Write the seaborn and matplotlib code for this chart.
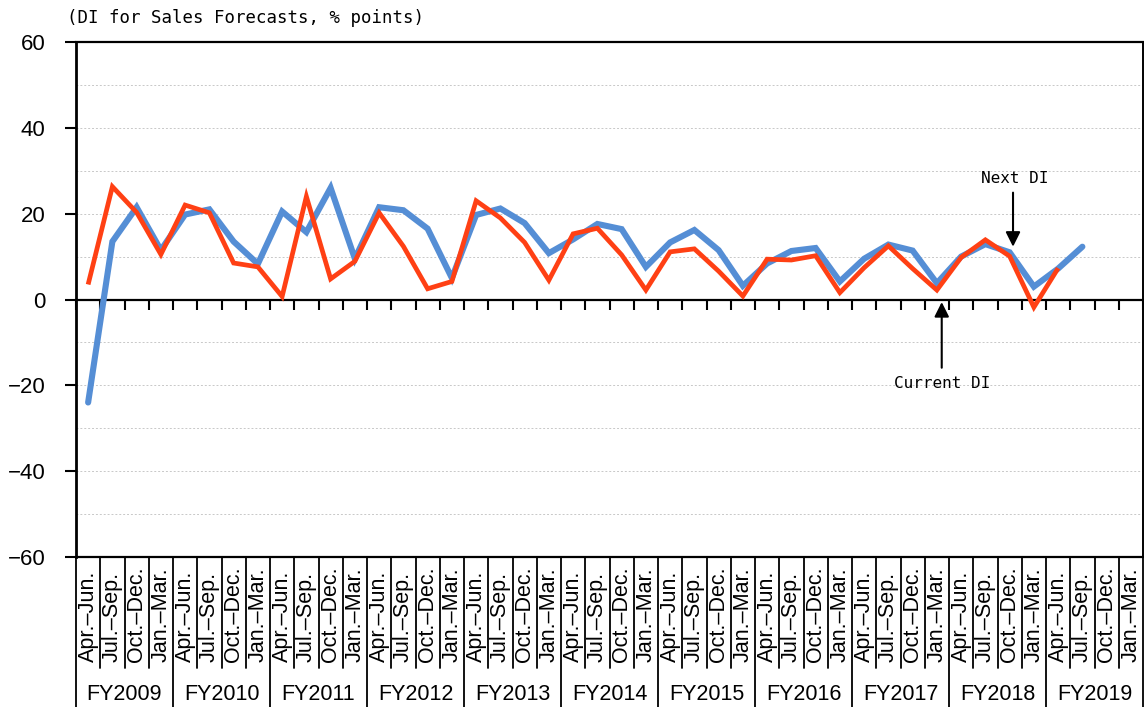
import numpy as np
import pandas as pd
import matplotlib
matplotlib.use("Agg")
import matplotlib.pyplot as plt
import matplotlib.transforms as mtransforms
import seaborn as sns

# fiscal years and quarters (x categories)
years = ["FY2009", "FY2010", "FY2011", "FY2012", "FY2013", "FY2014",
         "FY2015", "FY2016", "FY2017", "FY2018", "FY2019"]
quarters = ["Apr.\u2013Jun.", "Jul.\u2013Sep.", "Oct.\u2013Dec.", "Jan.\u2013Mar."]

# DI for Sales Forecasts, % points
next_di = [-24, 13.5, 21.5, 11.5, 19.8, 21.0, 13.5, 8.3,
           20.5, 15.7, 26.0, 9.5, 21.5, 20.8, 16.5, 5.0,
           19.7, 21.2, 17.8, 10.8, 14.0, 17.6, 16.4, 7.6,
           13.3, 16.2, 11.5, 3.2, 8.4, 11.3, 12.0, 4.2,
           9.5, 12.8, 11.4, 3.8, 10.0, 12.9, 11.0, 3.0,
           7.2, 12.3, np.nan, np.nan]
current_di = [3.5, 26.3, 20.3, 10.5, 22.0, 20.2, 8.5, 7.6,
              0.7, 24.0, 4.8, 8.9, 20.2, 12.4, 2.5, 4.2,
              23.0, 19.0, 13.3, 4.5, 15.3, 16.6, 10.4, 2.2,
              11.1, 11.8, 6.6, 0.8, 9.4, 9.2, 10.2, 1.6,
              7.4, 12.5, 7.2, 2.2, 9.8, 13.9, 10.1, -1.8,
              7.3, np.nan, np.nan, np.nan]

n = len(years) * len(quarters)
df = pd.DataFrame({"idx": np.arange(n), "next": next_di, "current": current_di})

sns.set_theme(style="white")
plt.rcParams["font.family"] = ["Liberation Sans", "DejaVu Sans"]
plt.rcParams.update({"text.color": "black", "xtick.color": "black",
                     "ytick.color": "black", "axes.labelcolor": "black"})

fig = plt.figure(figsize=(11.44, 7.07), dpi=100)
ax = fig.add_axes([76 / 1144, 1 - 557 / 707, (1143 - 76) / 1144, (557 - 42) / 707])

sns.lineplot(data=df, x="idx", y="next", ax=ax, color="#558ED5", lw=4.4,
             solid_capstyle="round", solid_joinstyle="miter", zorder=3)
sns.lineplot(data=df, x="idx", y="current", ax=ax, color="#FF4014", lw=3.4,
             solid_capstyle="butt", solid_joinstyle="miter", zorder=4)

ax.set_xlim(-0.5, n - 0.5)
ax.set_ylim(-60, 60)
ax.set_xlabel("")
ax.set_ylabel("")

# y axis
ax.set_yticks(np.arange(-60, 61, 20))
ax.set_yticks(np.arange(-50, 60, 20), minor=True)
ax.tick_params(axis="y", which="major", direction="out", length=8, width=1.5,
               pad=14, labelsize=16, left=True)
ax.tick_params(axis="y", which="minor", length=0)
ax.yaxis.grid(True, which="both", color="#C8C8C8", ls=(0, (2, 2)), lw=0.7)
ax.set_axisbelow(True)

# x axis sits on zero, ticks at category boundaries
ax.spines["bottom"].set_position(("data", 0))
ax.spines["bottom"].set_linewidth(1.6)
ax.set_xticks(np.arange(-0.5, n, 1))
ax.set_xticklabels([])
ax.tick_params(axis="x", direction="out", length=7, width=1.5, bottom=True)
for s in ["left", "top", "right", "bottom"]:
    ax.spines[s].set_color("black")
ax.spines["left"].set_linewidth(2)
ax.spines["top"].set_linewidth(1.6)
ax.spines["right"].set_linewidth(1.4)
ax.axhline(-60, color="black", lw=1.6, clip_on=False, zorder=5)

# category label table under the plot
trans = mtransforms.blended_transform_factory(ax.transData, ax.transAxes)
scale = 515.0
q_bottom = -(668 - 557) / scale
y_bottom = -(707 - 557) / scale
for i in range(n):
    ax.text(i, -(662 - 557) / scale, quarters[i % 4], transform=trans,
            rotation=90, ha="center", va="bottom", fontsize=15.5)
for k in range(n + 1):
    x = k - 0.5
    y_end = y_bottom if k % 4 == 0 else q_bottom
    ax.plot([x, x], [0, y_end], transform=trans, color="black", lw=1.3,
            clip_on=False)
for j, yr in enumerate(years):
    ax.text(j * 4 + 1.5, -(694 - 557) / scale, yr, transform=trans,
            ha="center", va="center", fontsize=15.5)

# unit label
fig.text(67 / 1144, 1 - 18 / 707, "(DI for Sales Forecasts, % points)",
         family="DejaVu Sans Mono", fontsize=12.5, ha="left", va="center")

# arrows
arrow = dict(arrowstyle="-|>", color="black", lw=1.5, mutation_scale=22,
             shrinkA=0, shrinkB=0)
ax.annotate("", xy=(38.14, 12.3), xytext=(38.14, 24.9), arrowprops=arrow)
ax.text(38.2, 28.2, "Next DI", family="DejaVu Sans Mono", fontsize=11.5,
        ha="center", va="center")
ax.annotate("", xy=(35.2, -0.6), xytext=(35.2, -15.9), arrowprops=arrow)
ax.text(35.2, -19.6, "Current DI", family="DejaVu Sans Mono", fontsize=11.5,
        ha="center", va="center")

fig.savefig("out.png", dpi=100)
